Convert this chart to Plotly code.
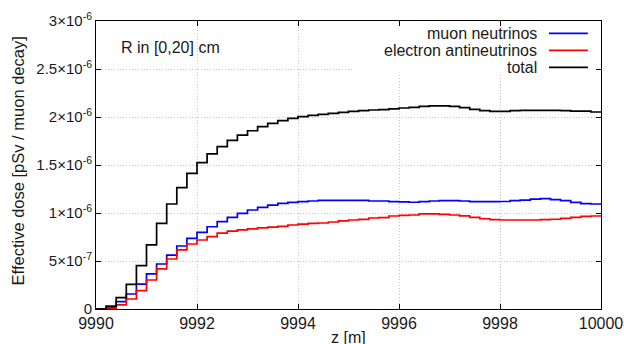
import plotly.graph_objects as go

# bin edges: 50 bins of 0.2 m from 9990 to 10000
z_start = 9990.0
bin_width = 0.2
scale = 1e-6  # values below are in units of 1e-6 pSv / muon decay

muon_nu = [0.0, 0.017, 0.076, 0.156, 0.26, 0.365, 0.469, 0.562, 0.656, 0.736,
           0.799, 0.857, 0.91, 0.955, 0.997, 1.031, 1.059, 1.083, 1.101, 1.111,
           1.118, 1.125, 1.132, 1.132, 1.132, 1.132, 1.132, 1.125, 1.125, 1.118,
           1.115, 1.112, 1.118, 1.125, 1.128, 1.128, 1.125, 1.118, 1.118, 1.118,
           1.12, 1.128, 1.135, 1.145, 1.149, 1.14, 1.128, 1.11, 1.097, 1.094]

e_antinu = [0.0, 0.007, 0.042, 0.104, 0.191, 0.302, 0.417, 0.521, 0.615, 0.677,
            0.719, 0.753, 0.79, 0.812, 0.825, 0.835, 0.845, 0.853, 0.861, 0.875,
            0.885, 0.892, 0.896, 0.906, 0.917, 0.927, 0.934, 0.948, 0.951, 0.969,
            0.976, 0.979, 0.99, 0.99, 0.985, 0.979, 0.97, 0.955, 0.94, 0.93,
            0.927, 0.927, 0.927, 0.927, 0.93, 0.935, 0.945, 0.955, 0.965, 0.969]

total = [0.0, 0.03, 0.118, 0.257, 0.451, 0.667, 0.892, 1.094, 1.264, 1.413,
         1.524, 1.615, 1.691, 1.757, 1.812, 1.857, 1.899, 1.934, 1.962, 1.986,
         2.003, 2.017, 2.028, 2.038, 2.049, 2.059, 2.066, 2.073, 2.076, 2.085,
         2.094, 2.1, 2.11, 2.115, 2.115, 2.11, 2.097, 2.08, 2.066, 2.059,
         2.059, 2.066, 2.069, 2.069, 2.069, 2.069, 2.066, 2.062, 2.062, 2.052]

series_names = ["muon neutrinos", "electron antineutrinos", "total"]
series_colors = ["#0000ff", "#ff0000", "#000000"]

x_tick_vals = [9990, 9992, 9994, 9996, 9998, 10000]
x_tick_text = ["9990", "9992", "9994", "9996", "9998", "10000"]
y_tick_vals = [0, 0.5e-6, 1e-6, 1.5e-6, 2e-6, 2.5e-6, 3e-6]
y_tick_text = ["0", "5×10<sup>-7</sup>", "1×10<sup>-6</sup>", "1.5×10<sup>-6</sup>",
               "2×10<sup>-6</sup>", "2.5×10<sup>-6</sup>", "3×10<sup>-6</sup>"]

FONT = "Liberation Sans, Arial, sans-serif"
TXT = "#1a1a1a"

n = len(total)
edges = [z_start + bin_width * i for i in range(n + 1)]

fig = go.Figure()
for vals, name, col in zip([muon_nu, e_antinu, total], series_names, series_colors):
    ys = [v * scale for v in vals] + [vals[-1] * scale]
    fig.add_trace(go.Scatter(x=edges, y=ys, mode="lines", name=name,
                             line=dict(color=col, width=1.7, shape="hv"),
                             showlegend=False, hoverinfo="skip"))

axis_common = dict(showline=True, linecolor="black", linewidth=1, mirror="ticks",
                   ticks="inside", ticklen=5, tickcolor="black", automargin=False,
                   showgrid=True, gridcolor="#c4c4c4", griddash="1px,2px", gridwidth=1,
                   zeroline=False)

fig.update_xaxes(range=[9990, 10000], tickvals=x_tick_vals, ticktext=x_tick_text,
                 tickfont=dict(family=FONT, size=16, color=TXT), **axis_common)
fig.update_yaxes(range=[0, 3e-6], tickvals=y_tick_vals, ticktext=y_tick_text,
                 tickfont=dict(family=FONT, size=15, color=TXT), **axis_common)

shapes = [dict(type="rect", xref="paper", yref="paper", x0=0.509, x1=0.988, y0=0.812, y1=0.983,
               fillcolor="white", line=dict(width=0), layer="above")]
annotations = []
leg_y = [0.957, 0.898, 0.839]
for name, col, yy in zip(series_names, series_colors, leg_y):
    annotations.append(dict(xref="paper", yref="paper", x=0.877, y=yy, text=name,
                            showarrow=False, xanchor="right", yanchor="middle",
                            font=dict(family=FONT, size=16, color=TXT)))
    shapes.append(dict(type="line", xref="paper", yref="paper", x0=0.897, x1=0.974,
                       y0=yy, y1=yy, line=dict(color=col, width=1.7), layer="above"))

annotations.append(dict(xref="paper", yref="paper", x=0.045, y=0.907, text="R in [0,20] cm",
                        showarrow=False, xanchor="left", yanchor="middle",
                        font=dict(family=FONT, size=16, color=TXT)))
annotations.append(dict(xref="paper", yref="paper", x=-0.155, y=0.515,
                        text="Effective dose [pSv / muon decay]", textangle=-90,
                        showarrow=False, xanchor="center", yanchor="middle",
                        font=dict(family=FONT, size=16.5, color=TXT)))
annotations.append(dict(xref="paper", yref="paper", x=0.5, y=-0.098, text="z [m]",
                        showarrow=False, xanchor="center", yanchor="middle",
                        font=dict(family=FONT, size=16, color=TXT)))

fig.update_layout(width=624, height=344, margin=dict(l=96, r=23, t=21, b=35),
                  paper_bgcolor="white", plot_bgcolor="white",
                  shapes=shapes, annotations=annotations, showlegend=False)

fig.write_html("out.html", config={"displayModeBar": False, "staticPlot": True},
               post_script="document.body.style.margin='0';document.body.style.overflow='hidden';")
